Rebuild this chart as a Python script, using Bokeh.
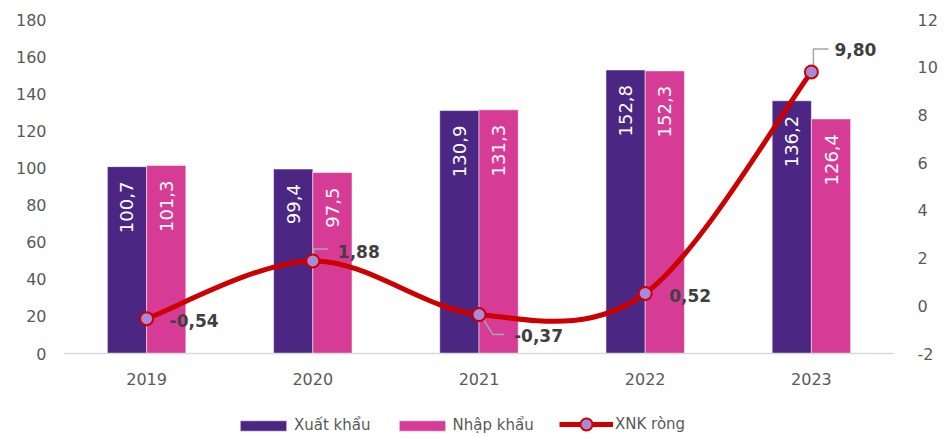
import math
from bokeh.plotting import figure
from bokeh.models import (Range1d, LinearAxis, FixedTicker, Legend, LegendItem,
                          ColumnDataSource)
from bokeh.core.properties import value
from bokeh.embed import file_html
from bokeh.resources import INLINE

# ---------------- data ----------------
years = ["2019", "2020", "2021", "2022", "2023"]
xuat_khau = [100.7, 99.4, 130.9, 152.8, 136.2]
nhap_khau = [101.3, 97.5, 131.3, 152.3, 126.4]
xnk_rong = [-0.54, 1.88, -0.37, 0.52, 9.80]
left_ticks = [0, 20, 40, 60, 80, 100, 120, 140, 160, 180]
right_ticks = [-2, 0, 2, 4, 6, 8, 10, 12]

# ---------------- style ----------------
FONT = "DejaVu Sans"
PURPLE = "#4B2683"
PINK = "#D63C95"
RED = "#CC0000"
MARKER = "#A68BDB"
TICK_COLOR = "#595959"
LABEL_COLOR = "#404040"

W, H = 944, 437
BL, BR, BT, BB = 63, 50, 19, 0
FRAME_W = W - BL - BR
FRAME_H = H - BT - BB
AXIS_PX = 334            # pixel height of the value scale (0..180 / -2..12)

ly_per_px = (left_ticks[-1] - left_ticks[0]) / AXIS_PX
ry_per_px = (right_ticks[-1] - right_ticks[0]) / AXIS_PX

p = figure(width=W, height=H, output_backend="svg", toolbar_location=None,
           x_range=Range1d(-0.5, 4.5),
           y_range=Range1d(left_ticks[-1] - FRAME_H * ly_per_px, left_ticks[-1]),
           min_border_left=BL, min_border_right=BR, min_border_top=BT,
           min_border_bottom=BB)
p.extra_y_ranges = {"r": Range1d(right_ticks[-1] - FRAME_H * ry_per_px, right_ticks[-1])}
p.outline_line_color = None
p.grid.visible = False
p.background_fill_color = "white"
p.border_fill_color = "white"

px_x = (p.x_range.end - p.x_range.start) / FRAME_W

idx = list(range(len(years)))
bw = 0.236
src1 = ColumnDataSource(dict(x=[i - bw / 2 for i in idx], top=xuat_khau,
                             lab=[f"{v:.1f}".replace(".", ",") for v in xuat_khau]))
src2 = ColumnDataSource(dict(x=[i + bw / 2 for i in idx], top=nhap_khau,
                             lab=[f"{v:.1f}".replace(".", ",") for v in nhap_khau]))

b1 = p.vbar(x="x", top="top", bottom=0, width=bw, source=src1, fill_color=PURPLE,
            line_color="white", line_alpha=0.5, line_width=1)
b2 = p.vbar(x="x", top="top", bottom=0, width=bw, source=src2, fill_color=PINK,
            line_color="white", line_alpha=0.5, line_width=1)

for s in (src1, src2):
    p.text(x="x", y="top", text="lab", source=s, angle=math.pi / 2,
           text_align="right", text_baseline="middle", y_offset=15,
           text_font=value(FONT), text_font_size="18px", text_color="white")

# smoothed line (Catmull-Rom -> cubic bezier, like Excel smoothing)
n = len(xnk_rong)
bz = dict(x0=[], y0=[], x1=[], y1=[], cx0=[], cy0=[], cx1=[], cy1=[])
for i in range(n - 1):
    i0, i1, i2, i3 = max(i - 1, 0), i, i + 1, min(i + 2, n - 1)
    bz["x0"].append(idx[i1]); bz["y0"].append(xnk_rong[i1])
    bz["x1"].append(idx[i2]); bz["y1"].append(xnk_rong[i2])
    bz["cx0"].append(idx[i1] + (idx[i2] - idx[i0]) / 6)
    bz["cy0"].append(xnk_rong[i1] + (xnk_rong[i2] - xnk_rong[i0]) / 6)
    bz["cx1"].append(idx[i2] - (idx[i3] - idx[i1]) / 6)
    bz["cy1"].append(xnk_rong[i2] - (xnk_rong[i3] - xnk_rong[i1]) / 6)
bez = p.bezier(source=ColumnDataSource(bz), x0="x0", y0="y0", x1="x1", y1="y1",
               cx0="cx0", cy0="cy0", cx1="cx1", cy1="cy1",
               line_color=RED, line_width=5, y_range_name="r")

# leader lines (pixel offsets from the point: right, up)
leaders = {1: [(1, 3), (1, 12), (15, 12)],
           2: [(2, -1), (14, -20), (25, -20)],
           4: [(2, 4), (2, 23), (17, 23)]}
lx, ly = [], []
for i, segs in leaders.items():
    lx.append([idx[i] + dx * px_x for dx, dy in segs])
    ly.append([xnk_rong[i] + dy * ry_per_px for dx, dy in segs])
p.multi_line(xs=lx, ys=ly, line_color="#A6A6A6", line_width=1.5, y_range_name="r")

sc = p.scatter(x=idx, y=xnk_rong, size=13, fill_color=MARKER, line_color=RED,
               line_width=2, y_range_name="r")

# value labels for the line (offsets in px: right, down)
lab_dx = [23, 25, 35, 24, 23]
lab_dy = [2, -9, 21, 2, -22]
p.text(x=idx, y=xnk_rong, text=[f"{v:.2f}".replace(".", ",") for v in xnk_rong],
       x_offset=lab_dx, y_offset=lab_dy, text_align="left", text_baseline="middle",
       text_font=value(FONT), text_font_size="17px", text_font_style="bold",
       text_color=LABEL_COLOR, y_range_name="r")

# ---------------- axes ----------------
xa = p.xaxis[0]
xa.ticker = FixedTicker(ticks=idx)
xa.major_label_overrides = {i: y for i, y in zip(idx, years)}
xa.fixed_location = 0
xa.axis_line_color = "#D9D9D9"
xa.axis_line_width = 1.5
xa.major_label_standoff = 19

ya = p.yaxis[0]
ya.ticker = FixedTicker(ticks=left_ticks)
ya.axis_line_color = None
ya.major_label_standoff = 17

ra = LinearAxis(y_range_name="r", ticker=FixedTicker(ticks=right_ticks))
ra.major_label_overrides = {t: str(t) for t in right_ticks}
ra.axis_line_color = None
ra.major_label_standoff = 23
p.add_layout(ra, "right")

for ax in (xa, ya, ra):
    ax.major_tick_line_color = None
    ax.minor_tick_line_color = None
    ax.major_tick_out = 0
    ax.major_tick_in = 0
    ax.minor_tick_out = 0
    ax.minor_tick_in = 0
    ax.major_label_text_font = FONT
    ax.major_label_text_font_size = "16px"
    ax.major_label_text_color = TICK_COLOR

# ---------------- legends ----------------
common = dict(orientation="horizontal", label_standoff=2, spacing=22,
              padding=0, margin=0, border_line_color=None, background_fill_alpha=0,
              label_text_font=FONT, label_text_font_size="15px",
              label_text_color=TICK_COLOR)
leg_bars = Legend(items=[LegendItem(label="Xuất khẩu", renderers=[b1]),
                         LegendItem(label="Nhập khẩu", renderers=[b2])],
                  location=(171, 3), glyph_width=58, glyph_height=13, **common)
leg_line = Legend(items=[LegendItem(label="XNK ròng", renderers=[bez, sc])],
                  location=(496, -2), glyph_width=54, glyph_height=30, **common)
p.add_layout(leg_bars, "center")
p.add_layout(leg_line, "center")

open("out.html", "w").write(file_html(p, INLINE))
